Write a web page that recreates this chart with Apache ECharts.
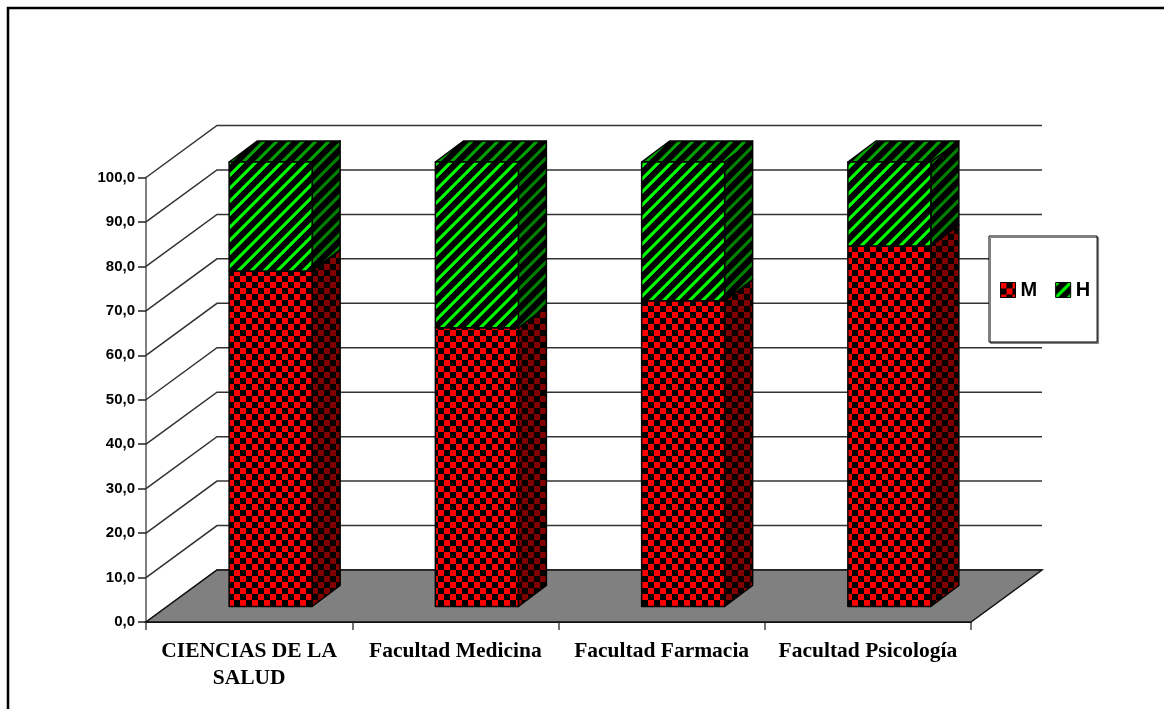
<!DOCTYPE html>
<html>
<head>
<meta charset="utf-8">
<style>html,body{margin:0;padding:0;background:#fff}#c{width:1164px;height:709px}</style>
<script src="https://cdn.jsdelivr.net/npm/echarts@6/dist/echarts.min.js"></script>
</head>
<body>
<div id="c"></div>
<script>
const categories = ['CIENCIAS DE LA SALUD', 'Facultad Medicina', 'Facultad Farmacia', 'Facultad Psicología'];
const seriesM = [75.5, 62.7, 68.8, 81.1];
const seriesH = [24.5, 37.3, 31.2, 18.9];
const yTicks = [0, 10, 20, 30, 40, 50, 60, 70, 80, 90, 100];

const SANS = '"Liberation Sans", Arial, sans-serif';
const SERIF = '"Liberation Serif", "Times New Roman", serif';

function tile(size, paint) {
  const c = document.createElement('canvas');
  c.width = c.height = size;
  paint(c.getContext('2d'));
  return { image: c, repeat: 'repeat' };
}
function checker(col) {
  const n = 6;
  return tile(n * 2, g => {
    g.fillStyle = '#000'; g.fillRect(0, 0, n * 2, n * 2);
    g.fillStyle = col; g.fillRect(0, 0, n, n); g.fillRect(n, n, n, n);
  });
}
function stripes(col) {
  const p = 13;
  return tile(p, g => {
    g.fillStyle = '#000'; g.fillRect(0, 0, p, p);
    for (let x = 0; x < p; x++) for (let y = 0; y < p; y++) {
      const k = (x + y) % p;
      const a = k < 3 ? 1 : k === 3 ? 0.8 : k === 12 ? 0.6 : 0;
      if (a) { g.globalAlpha = a; g.fillStyle = col; g.fillRect(x, y, 1, 1); }
    }
    g.globalAlpha = 1;
  });
}
const fills = {
  M: { front: checker('#ff0000'), side: checker('#800000'), top: checker('#b00000') },
  H: { front: stripes('#00ff00'), side: stripes('#008000'), top: stripes('#00a000') }
};

const WALL_DX = 71, WALL_DY = -52;
const BAR_DX = 21.5, BAR_DY = -15.5, DEPTH_DX = 28, DEPTH_DY = -21, BAR_W = 83;

function poly(points, fill, z2) {
  return { type: 'polygon', z2: z2 || 0, shape: { points },
    style: { fill, stroke: '#000', lineWidth: 1.5, lineJoin: 'round' } };
}

function barSeries(name, starts, values) {
  return {
    name, type: 'custom', z: 3, coordinateSystem: 'cartesian2d', silent: true,
    encode: { x: 0, y: [1, 2] },
    data: values.map((v, i) => [i, starts[i], starts[i] + v]),
    itemStyle: { color: fills[name].front },
    renderItem(params, api) {
      const lo = api.coord([api.value(0), api.value(1)]);
      const hi = api.coord([api.value(0), api.value(2)]);
      const xL = lo[0] - BAR_W / 2 + BAR_DX, xR = xL + BAR_W;
      const yB = lo[1] + BAR_DY, yT = hi[1] + BAR_DY;
      const kids = [];
      if (api.value(2) >= 99.9) {
        kids.push(poly([[xL, yT], [xR, yT], [xR + DEPTH_DX, yT + DEPTH_DY], [xL + DEPTH_DX, yT + DEPTH_DY]], fills[name].top));
      }
      kids.push(poly([[xR, yT], [xR + DEPTH_DX, yT + DEPTH_DY], [xR + DEPTH_DX, yB + DEPTH_DY], [xR, yB]], fills[name].side));
      kids.push(poly([[xL, yT], [xR, yT], [xR, yB], [xL, yB]], fills[name].front, 1));
      return { type: 'group', children: kids };
    }
  };
}

const wallSeries = {
  type: 'custom', z: 1, silent: true, coordinateSystem: 'cartesian2d',
  encode: { x: 0, y: 1 },
  data: yTicks.map(v => [0, v]),
  renderItem(params, api) {
    const y = api.coord([0, api.value(1)])[1];
    const x0 = params.coordSys.x, w = params.coordSys.width;
    return {
      type: 'polyline',
      shape: { points: [[x0, y], [x0 + WALL_DX, y + WALL_DY], [x0 + w + WALL_DX, y + WALL_DY]] },
      style: { fill: 'none', stroke: '#333', lineWidth: 1.5 }
    };
  }
};
const floorSeries = {
  type: 'custom', z: 2, silent: true, coordinateSystem: 'cartesian2d',
  encode: { x: 0, y: 1 },
  data: [[0, 0]],
  renderItem(params, api) {
    const y = api.coord([0, 0])[1];
    const x0 = params.coordSys.x, w = params.coordSys.width;
    return {
      type: 'polygon',
      shape: { points: [[x0, y], [x0 + WALL_DX, y + WALL_DY], [x0 + w + WALL_DX, y + WALL_DY], [x0 + w, y]] },
      style: { fill: '#808080', stroke: '#111', lineWidth: 1.5 }
    };
  }
};

const chart = echarts.init(document.getElementById('c'));
chart.setOption({
  animation: false,
  backgroundColor: '#fff',
  grid: { left: 146, top: 177.5, width: 825, height: 444.5 },
  graphic: [{
    type: 'polyline', z: 10,
    shape: { points: [[8, 709], [8, 8], [1164, 8]] },
    style: { fill: 'none', stroke: '#000', lineWidth: 2.5 }
  }],
  legend: {
    show: true, left: 989, top: 236, orient: 'horizontal', z: 20,
    padding: [44, 7, 42, 11], itemWidth: 15, itemHeight: 15, itemGap: 18,
    backgroundColor: '#fff', borderColor: '#000', borderWidth: 1,
    shadowColor: '#808080', shadowBlur: 0, shadowOffsetX: 1.5, shadowOffsetY: 1.5,
    textStyle: { fontFamily: SANS, fontWeight: 'bold', fontSize: 20, color: '#000' },
    icon: 'rect', selectedMode: false,
    data: [
      { name: 'M', itemStyle: { color: fills.M.front, borderColor: '#000', borderWidth: 1 } },
      { name: 'H', itemStyle: { color: fills.H.front, borderColor: '#000', borderWidth: 1 } }
    ]
  },
  xAxis: {
    type: 'category', data: categories, boundaryGap: true,
    axisLine: { show: true, lineStyle: { color: '#111', width: 2 } },
    axisTick: { show: true, length: 8, alignWithLabel: false, lineStyle: { color: '#444', width: 1.5 } },
    axisLabel: { interval: 0, margin: 16, lineHeight: 27,
      formatter: v => v.replace('LA SALUD', 'LA\nSALUD'),
      fontFamily: SERIF, fontWeight: 'bold', fontSize: 21.5, color: '#000', hideOverlap: false },
    splitLine: { show: false }
  },
  yAxis: {
    type: 'value', min: 0, max: 100, interval: 10,
    axisLine: { show: true, lineStyle: { color: '#808080', width: 2 } },
    axisTick: { show: true, length: 8, lineStyle: { color: '#222', width: 1.5 } },
    axisLabel: { margin: 11, fontFamily: SANS, fontWeight: 'bold', fontSize: 15, color: '#000',
      formatter: v => v.toFixed(1).replace('.', ',') },
    splitLine: { show: false }
  },
  series: [wallSeries, floorSeries,
    barSeries('M', seriesM.map(() => 0), seriesM),
    barSeries('H', seriesM, seriesH)]
});
</script>
</body>
</html>
